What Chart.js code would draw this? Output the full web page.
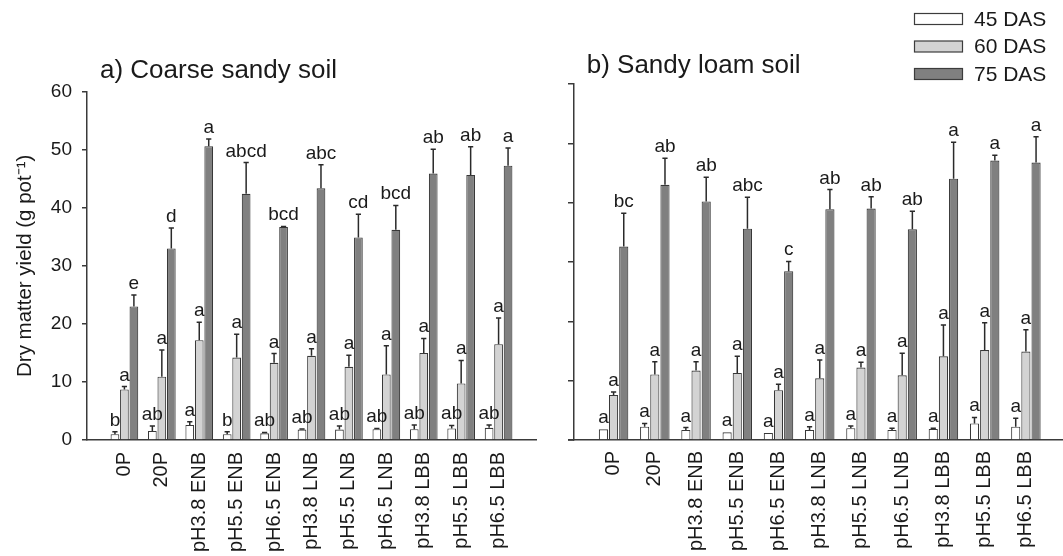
<!DOCTYPE html>
<html><head><meta charset="utf-8">
<script src="https://cdn.jsdelivr.net/npm/chart.js@4.4.1/dist/chart.umd.min.js"></script>
<style>
html,body{margin:0;padding:0;background:#fff;width:1063px;height:556px;overflow:hidden;}
#wa{position:absolute;left:0;top:0;width:572px;height:556px;}
#wb{position:absolute;left:562px;top:0;width:501px;height:556px;}
</style></head><body>
<div id="wa"><canvas id="ca"></canvas></div>
<div id="wb"><canvas id="cb"></canvas></div>
<script>
// ---------- data ----------
const treatments = ['0P','20P','pH3.8 ENB','pH5.5 ENB','pH6.5 ENB','pH3.8 LNB','pH5.5 LNB','pH6.5 LNB','pH3.8 LBB','pH5.5 LBB','pH6.5 LBB'];
const seriesNames = ['45 DAS','60 DAS','75 DAS'];
const yTickStep = 10;
const yMax = 60;
const titleA = 'a) Coarse sandy soil';
const titleB = 'b) Sandy loam soil';
const yTitle = 'Dry matter yield (g pot\u207B\u00B9)';

// a) Coarse sandy soil
const sandy45    = [1.0, 1.55, 2.6, 1.0, 1.15, 1.8, 1.8, 1.85, 1.85, 2.0, 2.1];
const sandy45Err = [0.4, 0.85, 0.55, 0.4, 0.15, 0.1, 0.6, 0.15, 0.75, 0.5, 0.5];
const sandy45Sig = ['b','ab','a','b','ab','ab','ab','ab','ab','ab','ab'];
const sandy60    = [8.7, 10.9, 17.2, 14.2, 13.3, 14.5, 12.6, 11.3, 15.0, 9.75, 16.5];
const sandy60Err = [0.5, 4.6, 3.1, 4.0, 1.6, 1.2, 2.0, 4.95, 2.5, 3.95, 4.5];
const sandy60Sig = ['a','a','a','a','a','a','a','a','a','a','a'];
const sandy75    = [23.0, 33.0, 50.6, 42.4, 36.7, 43.35, 34.9, 36.2, 45.9, 45.65, 47.25];
const sandy75Err = [2.0, 3.5, 1.25, 5.4, 0.1, 4.05, 4.0, 4.2, 4.2, 4.85, 3.05];
const sandy75Sig = ['e','d','a','abcd','bcd','abc','cd','bcd','ab','ab','a'];

// b) Sandy loam soil
const loam45    = [1.8, 2.25, 1.7, 1.3, 1.2, 1.7, 2.0, 1.7, 1.85, 2.8, 2.25];
const loam45Err = [0, 0.55, 0.4, 0, 0, 0.55, 0.35, 0.3, 0.15, 1.0, 1.4];
const loam45Sig = ['a','a','a','a','a','a','a','a','a','a','a'];
const loam60    = [7.6, 11.05, 11.7, 11.3, 8.4, 10.4, 12.2, 10.9, 14.1, 15.15, 14.9];
const loam60Err = [0.5, 2.15, 1.5, 2.8, 1.0, 3.1, 0.9, 3.7, 5.3, 4.6, 3.7];
const loam60Sig = ['a','a','a','a','a','a','a','a','a','a','a'];
const loam75    = [32.6, 43.0, 40.2, 35.6, 28.45, 38.9, 39.0, 35.5, 44.05, 47.1, 46.75];
const loam75Err = [5.6, 4.5, 4.1, 5.3, 1.65, 3.3, 2.0, 3.05, 6.15, 0.9, 4.35];
const loam75Sig = ['bc','ab','ab','abc','c','ab','ab','ab','a','a','a'];

// ---------- styling ----------
const FONT = "'Liberation Sans', Arial, Helvetica, sans-serif";
const TXT = '#1a1a1a';
const AXIS = '#3a3a3a';
const fills = ['#ffffff', '#d3d3d3', '#808080'];
Chart.defaults.font.family = FONT;
Chart.defaults.color = TXT;

function makeSets(vals, errs, sigs, catP, barP) {
  return vals.map((v, k) => ({
    label: seriesNames[k],
    data: v.map((y, i) => ({x: i, y: y})),
    errs: errs[k],
    sigs: sigs[k],
    backgroundColor: fills[k],
    borderColor: '#383838',
    borderWidth: 1.1,
    borderSkipped: 'bottom',
    categoryPercentage: catP,
    barPercentage: barP
  }));
}

const errPlugin = {
  id: 'errs',
  afterDatasetsDraw(chart) {
    const ctx = chart.ctx, ys = chart.scales.y;
    ctx.save();
    chart.data.datasets.forEach((ds, di) => {
      const meta = chart.getDatasetMeta(di);
      meta.data.forEach((bar, i) => {
        const v = ds.data[i].y, e = ds.errs[i];
        const top = ys.getPixelForValue(v + e);
        if (e > 0) {
          ctx.strokeStyle = '#2a2a2a';
          ctx.lineWidth = 1.5;
          ctx.beginPath();
          ctx.moveTo(bar.x, bar.y);
          ctx.lineTo(bar.x, top);
          ctx.moveTo(bar.x - 2.6, top);
          ctx.lineTo(bar.x + 2.6, top);
          ctx.stroke();
        }
        ctx.fillStyle = TXT;
        ctx.font = '19px ' + FONT;
        ctx.textAlign = 'center';
        ctx.textBaseline = 'alphabetic';
        ctx.fillText(ds.sigs[i], bar.x, top - 6);
      });
    });
    ctx.restore();
  }
};

function titlePlugin(text, x, y) {
  return {
    id: 'ptitle',
    afterDraw(chart) {
      const ctx = chart.ctx;
      ctx.save();
      ctx.fillStyle = TXT;
      ctx.font = '26px ' + FONT;
      ctx.textAlign = 'left';
      ctx.textBaseline = 'alphabetic';
      ctx.fillText(text, x, y);
      ctx.restore();
    }
  };
}

const legendPlugin = {
  id: 'plegend',
  afterDraw(chart) {
    const ctx = chart.ctx;
    ctx.save();
    seriesNames.forEach((n, k) => {
      const y0 = 13.5 + k * 27.5;
      ctx.fillStyle = fills[k];
      ctx.strokeStyle = '#3c3c3c';
      ctx.lineWidth = 1.2;
      ctx.fillRect(352.5, y0, 48, 11);
      ctx.strokeRect(352.5, y0, 48, 11);
      ctx.fillStyle = TXT;
      ctx.font = '21px ' + FONT;
      ctx.textAlign = 'left';
      ctx.textBaseline = 'middle';
      ctx.fillText(n, 412, y0 + 6.5);
    });
    ctx.restore();
  }
};

// short stub of panel b x-axis extending left of its y-axis
const stubPlugin = {
  id: 'stub',
  afterDraw(chart) {
    const ctx = chart.ctx, a = chart.chartArea;
    ctx.save();
    ctx.strokeStyle = AXIS;
    ctx.lineWidth = 1.5;
    ctx.beginPath();
    ctx.moveTo(a.left - 6, a.bottom);
    ctx.lineTo(a.left, a.bottom);
    ctx.stroke();
    ctx.restore();
  }
};

function buildChart(canvasId, datasets, opt) {
  return new Chart(document.getElementById(canvasId), {
    type: 'bar',
    data: { datasets: datasets },
    plugins: opt.plugins,
    options: {
      responsive: true,
      maintainAspectRatio: false,
      animation: false,
      events: [],
      layout: { padding: opt.padding },
      plugins: { legend: { display: false }, tooltip: { enabled: false }, title: { display: false } },
      scales: {
        x: {
          type: 'linear',
          min: opt.xMin, max: opt.xMax,
          offset: false,
          grid: { display: false, drawTicks: false },
          border: { display: true, color: AXIS, width: 1.5 },
          afterFit(s) { s.height = 116; },
          ticks: {
            stepSize: 1,
            includeBounds: false,
            autoSkip: false,
            maxRotation: 90, minRotation: 90,
            padding: opt.xPad,
            font: { size: 20 },
            color: TXT,
            callback: (v) => Number.isInteger(v) && treatments[v] !== undefined ? treatments[v] : ''
          }
        },
        y: {
          min: 0, max: yMax,
          afterFit(s) { s.width = opt.yWidth; },
          grid: { drawOnChartArea: false, drawTicks: true, tickLength: opt.tickLen, color: AXIS, lineWidth: 1.5 },
          border: { display: true, color: AXIS, width: 1.5 },
          title: opt.yTitle ? { display: true, text: yTitle, font: { size: 20.5 }, color: TXT, padding: { top: 13, bottom: 0 } } : { display: false },
          ticks: { stepSize: yTickStep, display: opt.yLabels, padding: 10, font: { size: 19 }, color: TXT }
        }
      }
    }
  });
}

buildChart('ca',
  makeSets([sandy45, sandy60, sandy75], [sandy45Err, sandy60Err, sandy75Err], [sandy45Sig, sandy60Sig, sandy75Sig], 0.76, 0.92),
  { plugins: [errPlugin, titlePlugin(titleA, 100, 78)], padding: { left: 0, right: 2, top: 91.7, bottom: 0 },
    xMin: -1, xMax: 11, xPad: 12, yWidth: 87, tickLen: 5, yTitle: true, yLabels: true });

buildChart('cb',
  makeSets([loam45, loam60, loam75], [loam45Err, loam60Err, loam75Err], [loam45Sig, loam60Sig, loam75Sig], 0.74, 0.9),
  { plugins: [errPlugin, titlePlugin(titleB, 24.7, 73), legendPlugin, stubPlugin], padding: { left: 0, right: 0, top: 84, bottom: 0 },
    xMin: -0.96, xMax: 10.9, xPad: 11, yWidth: 12, tickLen: 6, yTitle: false, yLabels: false });
</script>
</body></html>
